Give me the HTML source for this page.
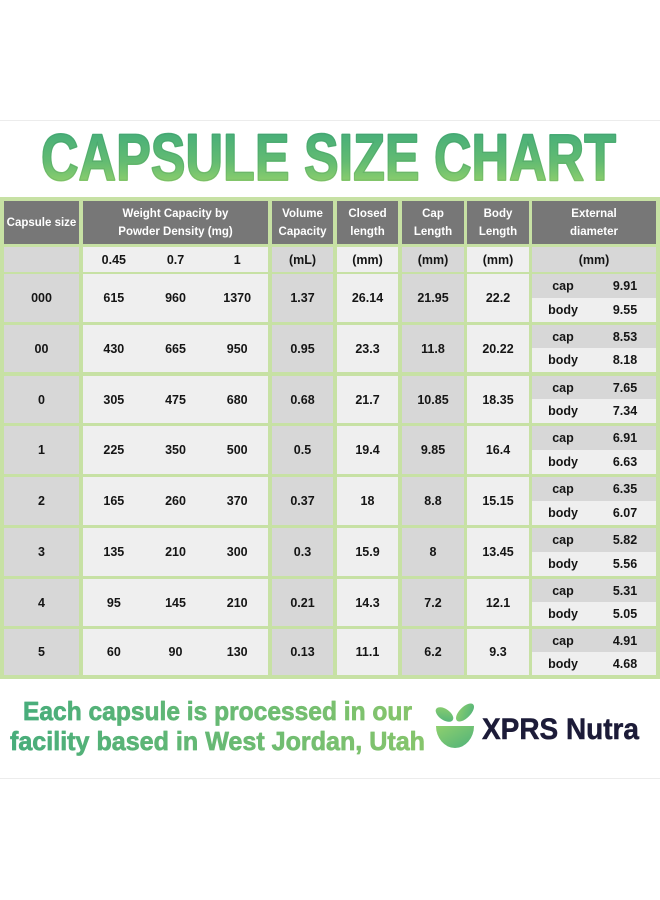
<!DOCTYPE html>
<html><head><meta charset="utf-8">
<style>
html,body{margin:0;padding:0;background:#fff;}
body{width:660px;height:900px;position:relative;overflow:hidden;font-family:"Liberation Sans",sans-serif;}
.panel{position:absolute;left:0;top:120px;width:660px;height:659px;border-top:1px solid #ececec;border-bottom:1px solid #ececec;box-sizing:border-box;}
.tbl{position:absolute;left:0;top:197px;width:660px;height:482px;background:#c7e1a4;}
.c{position:absolute;display:flex;align-items:center;justify-content:center;font-weight:bold;color:#151515;font-size:12.5px;text-align:center;}
.h{background:#777;color:#fff;font-size:11.5px;line-height:18px;}
.g{background:#d7d7d7;}
.l{background:#efefef;}
.w{display:flex;}
.w span{flex:1;text-align:center;}
.ext{position:absolute;}
.ext div{display:flex;align-items:center;font-weight:bold;color:#151515;font-size:12.5px;}
.ext span{width:62px;text-align:center;}
</style></head><body>
<div class="panel"></div>

<svg style="position:absolute;left:0;top:0" width="660" height="200">
<defs>
<linearGradient id="tg" x1="0" y1="0" x2="0" y2="1">
<stop offset="0" stop-color="#3daa7c"/><stop offset="0.55" stop-color="#62bb72"/><stop offset="1" stop-color="#a3d86a"/>
</linearGradient>
</defs>
<text x="41" y="180" font-family="Liberation Sans" font-weight="bold" font-size="65.5" textLength="575" lengthAdjust="spacingAndGlyphs" fill="url(#tg)" stroke="url(#tg)" stroke-width="2" stroke-linejoin="round">CAPSULE SIZE CHART</text>
<text x="41" y="180" font-family="Liberation Sans" font-weight="bold" font-size="65.5" textLength="575" lengthAdjust="spacingAndGlyphs" fill="none" stroke="#2f6e4e" stroke-opacity="0.25" stroke-width="0.6">CAPSULE SIZE CHART</text>
</svg>

<div class="tbl"></div>

<!-- header -->
<div class="c h" style="left:4px;top:201px;width:75px;height:43px;">Capsule size</div>
<div class="c h" style="left:83px;top:201px;width:185px;height:43px;">Weight Capacity by<br>Powder Density (mg)</div>
<div class="c h" style="left:272px;top:201px;width:61px;height:43px;">Volume<br>Capacity</div>
<div class="c h" style="left:337px;top:201px;width:61px;height:43px;">Closed<br>length</div>
<div class="c h" style="left:402px;top:201px;width:62px;height:43px;">Cap<br>Length</div>
<div class="c h" style="left:467px;top:201px;width:62px;height:43px;">Body<br>Length</div>
<div class="c h" style="left:532px;top:201px;width:124px;height:43px;">External<br>diameter</div>

<!-- units -->
<div class="c g" style="left:4px;top:247px;width:75px;height:25px;"></div>
<div class="c l w" style="left:83px;top:247px;width:185px;height:25px;"><span>0.45</span><span>0.7</span><span>1</span></div>
<div class="c g" style="left:272px;top:247px;width:61px;height:25px;">(mL)</div>
<div class="c l" style="left:337px;top:247px;width:61px;height:25px;">(mm)</div>
<div class="c g" style="left:402px;top:247px;width:62px;height:25px;">(mm)</div>
<div class="c l" style="left:467px;top:247px;width:62px;height:25px;">(mm)</div>
<div class="c g" style="left:532px;top:247px;width:124px;height:25px;">(mm)</div>

<!-- row 000 -->
<div class="c g" style="left:4px;top:274px;width:75px;height:48px;">000</div>
<div class="c l w" style="left:83px;top:274px;width:185px;height:48px;"><span>615</span><span>960</span><span>1370</span></div>
<div class="c g" style="left:272px;top:274px;width:61px;height:48px;">1.37</div>
<div class="c l" style="left:337px;top:274px;width:61px;height:48px;">26.14</div>
<div class="c g" style="left:402px;top:274px;width:62px;height:48px;">21.95</div>
<div class="c l" style="left:467px;top:274px;width:62px;height:48px;">22.2</div>
<div class="ext" style="left:532px;top:274px;width:124px;height:48px;"><div class="g" style="height:24px"><span>cap</span><span>9.91</span></div><div class="l" style="height:24px"><span>body</span><span>9.55</span></div></div>

<!-- row 00 -->
<div class="c g" style="left:4px;top:325px;width:75px;height:47px;">00</div>
<div class="c l w" style="left:83px;top:325px;width:185px;height:47px;"><span>430</span><span>665</span><span>950</span></div>
<div class="c g" style="left:272px;top:325px;width:61px;height:47px;">0.95</div>
<div class="c l" style="left:337px;top:325px;width:61px;height:47px;">23.3</div>
<div class="c g" style="left:402px;top:325px;width:62px;height:47px;">11.8</div>
<div class="c l" style="left:467px;top:325px;width:62px;height:47px;">20.22</div>
<div class="ext" style="left:532px;top:325px;width:124px;height:47px;"><div class="g" style="height:23px"><span>cap</span><span>8.53</span></div><div class="l" style="height:24px"><span>body</span><span>8.18</span></div></div>

<!-- row 0 -->
<div class="c g" style="left:4px;top:376px;width:75px;height:47px;">0</div>
<div class="c l w" style="left:83px;top:376px;width:185px;height:47px;"><span>305</span><span>475</span><span>680</span></div>
<div class="c g" style="left:272px;top:376px;width:61px;height:47px;">0.68</div>
<div class="c l" style="left:337px;top:376px;width:61px;height:47px;">21.7</div>
<div class="c g" style="left:402px;top:376px;width:62px;height:47px;">10.85</div>
<div class="c l" style="left:467px;top:376px;width:62px;height:47px;">18.35</div>
<div class="ext" style="left:532px;top:376px;width:124px;height:47px;"><div class="g" style="height:23px"><span>cap</span><span>7.65</span></div><div class="l" style="height:24px"><span>body</span><span>7.34</span></div></div>

<!-- row 1 -->
<div class="c g" style="left:4px;top:426px;width:75px;height:48px;">1</div>
<div class="c l w" style="left:83px;top:426px;width:185px;height:48px;"><span>225</span><span>350</span><span>500</span></div>
<div class="c g" style="left:272px;top:426px;width:61px;height:48px;">0.5</div>
<div class="c l" style="left:337px;top:426px;width:61px;height:48px;">19.4</div>
<div class="c g" style="left:402px;top:426px;width:62px;height:48px;">9.85</div>
<div class="c l" style="left:467px;top:426px;width:62px;height:48px;">16.4</div>
<div class="ext" style="left:532px;top:426px;width:124px;height:48px;"><div class="g" style="height:24px"><span>cap</span><span>6.91</span></div><div class="l" style="height:24px"><span>body</span><span>6.63</span></div></div>

<!-- row 2 -->
<div class="c g" style="left:4px;top:477px;width:75px;height:48px;">2</div>
<div class="c l w" style="left:83px;top:477px;width:185px;height:48px;"><span>165</span><span>260</span><span>370</span></div>
<div class="c g" style="left:272px;top:477px;width:61px;height:48px;">0.37</div>
<div class="c l" style="left:337px;top:477px;width:61px;height:48px;">18</div>
<div class="c g" style="left:402px;top:477px;width:62px;height:48px;">8.8</div>
<div class="c l" style="left:467px;top:477px;width:62px;height:48px;">15.15</div>
<div class="ext" style="left:532px;top:477px;width:124px;height:48px;"><div class="g" style="height:24px"><span>cap</span><span>6.35</span></div><div class="l" style="height:24px"><span>body</span><span>6.07</span></div></div>

<!-- row 3 -->
<div class="c g" style="left:4px;top:528px;width:75px;height:48px;">3</div>
<div class="c l w" style="left:83px;top:528px;width:185px;height:48px;"><span>135</span><span>210</span><span>300</span></div>
<div class="c g" style="left:272px;top:528px;width:61px;height:48px;">0.3</div>
<div class="c l" style="left:337px;top:528px;width:61px;height:48px;">15.9</div>
<div class="c g" style="left:402px;top:528px;width:62px;height:48px;">8</div>
<div class="c l" style="left:467px;top:528px;width:62px;height:48px;">13.45</div>
<div class="ext" style="left:532px;top:528px;width:124px;height:48px;"><div class="g" style="height:24px"><span>cap</span><span>5.82</span></div><div class="l" style="height:24px"><span>body</span><span>5.56</span></div></div>

<!-- row 4 -->
<div class="c g" style="left:4px;top:579px;width:75px;height:47px;">4</div>
<div class="c l w" style="left:83px;top:579px;width:185px;height:47px;"><span>95</span><span>145</span><span>210</span></div>
<div class="c g" style="left:272px;top:579px;width:61px;height:47px;">0.21</div>
<div class="c l" style="left:337px;top:579px;width:61px;height:47px;">14.3</div>
<div class="c g" style="left:402px;top:579px;width:62px;height:47px;">7.2</div>
<div class="c l" style="left:467px;top:579px;width:62px;height:47px;">12.1</div>
<div class="ext" style="left:532px;top:579px;width:124px;height:47px;"><div class="g" style="height:23px"><span>cap</span><span>5.31</span></div><div class="l" style="height:24px"><span>body</span><span>5.05</span></div></div>

<!-- row 5 -->
<div class="c g" style="left:4px;top:629px;width:75px;height:46px;">5</div>
<div class="c l w" style="left:83px;top:629px;width:185px;height:46px;"><span>60</span><span>90</span><span>130</span></div>
<div class="c g" style="left:272px;top:629px;width:61px;height:46px;">0.13</div>
<div class="c l" style="left:337px;top:629px;width:61px;height:46px;">11.1</div>
<div class="c g" style="left:402px;top:629px;width:62px;height:46px;">6.2</div>
<div class="c l" style="left:467px;top:629px;width:62px;height:46px;">9.3</div>
<div class="ext" style="left:532px;top:629px;width:124px;height:46px;"><div class="g" style="height:23px"><span>cap</span><span>4.91</span></div><div class="l" style="height:23px"><span>body</span><span>4.68</span></div></div>

<svg style="position:absolute;left:0;top:680px" width="660" height="100" viewBox="0 680 660 100">
<defs>
<linearGradient id="bg" x1="0" y1="0" x2="1" y2="0">
<stop offset="0" stop-color="#48ad7b"/><stop offset="1" stop-color="#86c56c"/>
</linearGradient>
<linearGradient id="lg" x1="0" y1="0" x2="1" y2="1">
<stop offset="0" stop-color="#8fd06e"/><stop offset="1" stop-color="#4fb27a"/>
</linearGradient>
</defs>
<text x="23" y="720" font-family="Liberation Sans" font-weight="bold" font-size="26" textLength="389" lengthAdjust="spacingAndGlyphs" fill="url(#bg)" stroke="url(#bg)" stroke-width="0.7" stroke-linejoin="round">Each capsule is processed in our</text>
<text x="10" y="750" font-family="Liberation Sans" font-weight="bold" font-size="26" textLength="415" lengthAdjust="spacingAndGlyphs" fill="url(#bg)" stroke="url(#bg)" stroke-width="0.7" stroke-linejoin="round">facility based in West Jordan, Utah</text>
<!-- logo -->
<ellipse cx="444.5" cy="714.5" rx="10" ry="5.5" transform="rotate(35 444.5 714.5)" fill="url(#lg)"/>
<ellipse cx="465" cy="712.5" rx="11.5" ry="5.5" transform="rotate(-45 465 712.5)" fill="url(#lg)"/>
<path d="M436 726 L474 726 A19 22 0 0 1 436 726 Z" fill="url(#lg)"/>
<text x="482" y="739" font-family="Liberation Sans" font-weight="bold" font-size="30" textLength="157" lengthAdjust="spacingAndGlyphs" fill="#1c1b38" stroke="#1c1b38" stroke-width="0.5">XPRS Nutra</text>
</svg>
</body></html>
